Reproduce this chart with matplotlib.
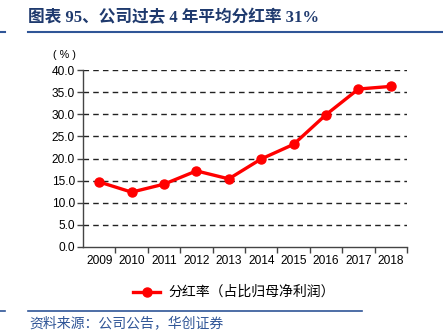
import matplotlib.pyplot as plt
from matplotlib.lines import Line2D

plt.rcParams['font.family'] = ['Liberation Sans', 'Noto Sans CJK SC', 'DejaVu Sans']

years = ['2009', '2010', '2011', '2012', '2013', '2014', '2015', '2016', '2017', '2018']
payout = [14.7, 12.4, 14.2, 17.2, 15.4, 19.9, 23.2, 29.9, 35.7, 36.3]
yticks = [0, 5, 10, 15, 20, 25, 30, 35, 40]

title = '图表 95、公司过去 4 年平均分红率 31%'
series_name = '分红率（占比归母净利润）'
source = '资料来源：公司公告，华创证券'

blue = '#2F5597'
dark_blue = '#1F3A6E'

fig = plt.figure(figsize=(4.43, 3.35), dpi=100)
ax = fig.add_axes([0.1874, 0.2627, 0.7313, 0.5283])

x = list(range(len(years)))
ax.plot(x, payout, color='#FF0000', lw=2.4, marker='o', ms=6.5,
        solid_joinstyle='round', solid_capstyle='round', zorder=3)

ax.set_xlim(-0.5, len(years) - 0.5)
ax.set_ylim(0, 40)
ax.set_yticks(yticks)
ax.set_yticklabels([f'{v:.1f}' for v in yticks])
ax.set_xticks(x)
ax.set_xticklabels(years)
ax.set_xticks([i + 0.5 for i in range(len(years))], minor=True)
ax.tick_params(axis='x', which='major', length=0, labelsize=8.6, pad=6)
ax.tick_params(axis='x', which='minor', length=4, width=1, color='#444444', direction='out')
ax.tick_params(axis='y', length=4, width=1, color='#444444', labelsize=8.6, pad=2)

for v in yticks[1:]:
    ax.axhline(v, color='#222222', lw=1, ls=(0, (4, 3)), zorder=1)

for s in ['top', 'right']:
    ax.spines[s].set_visible(False)
for s in ['left', 'bottom']:
    ax.spines[s].set_color('#444444')
    ax.spines[s].set_linewidth(1)

fig.text(0.12, 0.836, '( % )', fontsize=7.8, ha='left', va='center')

# title and rules
fig.text(0.064, 0.946, title, fontsize=12, fontweight='bold', color=dark_blue,
         ha='left', va='center', family=['Liberation Serif', 'Noto Sans CJK SC'])
fig.add_artist(Line2D([0, 0.012], [0.904, 0.904], color=blue, lw=1.5))
fig.add_artist(Line2D([0.063, 1.0], [0.904, 0.904], color=blue, lw=1.5))
fig.add_artist(Line2D([0, 0.012], [0.072, 0.072], color=blue, lw=1.2))
fig.add_artist(Line2D([0.063, 0.818], [0.072, 0.072], color=blue, lw=1.2))

# legend
fig.add_artist(Line2D([0.30, 0.362], [0.128, 0.128], color='#FF0000', lw=2.4, zorder=3))
fig.add_artist(Line2D([0.331], [0.128], color='#FF0000', marker='o', ms=6.5))
fig.text(0.381, 0.128, series_name, fontsize=10, ha='left', va='center',
         family=['Noto Sans CJK SC'])

fig.text(0.066, 0.035, source, fontsize=10, color=blue, style='italic',
         ha='left', va='center', family=['Noto Sans CJK SC'])

fig.savefig('out.png', dpi=100)
